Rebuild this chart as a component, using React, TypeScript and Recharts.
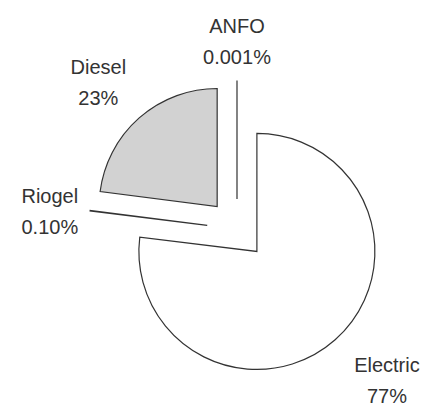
import { Pie, PieChart, Sector } from 'recharts';

// Energy source split, in percent
const sources = ['Electric', 'Riogel', 'Diesel', 'ANFO'];
const shares = ['77', '0.10', '23', '0.001'];
const values = shares.map(Number);

const data = sources.map((name, i) => ({ name, value: values[i], share: shares[i] }));

const FILLS = ['#ffffff', '#ffffff', '#d2d2d2', '#ffffff'];
// label distance from centre and small angular nudge, per slice
const LABEL_RADIUS = [213, 188, 202, 188];
const LABEL_NUDGE = [3.2, 1.7, 2, 0];
const EXPLODE = 30;
const RADIAN = Math.PI / 180;

function ExplodedSlice(props: any) {
  const { cx, cy, midAngle, outerRadius, startAngle, endAngle } = props;
  const entry = props.payload ?? props;
  const i = sources.indexOf(entry.name);

  const sx = cx + EXPLODE * Math.cos(-midAngle * RADIAN);
  const sy = cy + EXPLODE * Math.sin(-midAngle * RADIAN);

  const la = midAngle + LABEL_NUDGE[i];
  const lx = cx + LABEL_RADIUS[i] * Math.cos(-la * RADIAN);
  const ly = cy + LABEL_RADIUS[i] * Math.sin(-la * RADIAN);

  return (
    <g>
      <Sector
        cx={sx}
        cy={sy}
        innerRadius={0}
        outerRadius={outerRadius}
        startAngle={startAngle}
        endAngle={endAngle}
        fill={FILLS[i]}
        stroke="#333333"
        strokeWidth={1.2}
      />
      <text
        textAnchor="middle"
        fill="#333333"
        fontSize={20}
        fontFamily="'Liberation Sans', Arial, Helvetica, sans-serif"
      >
        <tspan x={lx} y={ly - 8}>
          {entry.name}
        </tspan>
        <tspan x={lx} y={ly + 23}>
          {entry.share}%
        </tspan>
      </text>
    </g>
  );
}

export default function App() {
  return (
    <div style={{ position: 'absolute', left: 0, top: 0, background: '#fff' }}>
      <PieChart width={423} height={407} margin={{ top: 0, right: 0, bottom: 0, left: 0 }}>
        <Pie
          data={data}
          dataKey="value"
          nameKey="name"
          cx={237}
          cy={229}
          innerRadius={0}
          outerRadius={118}
          startAngle={90}
          endAngle={-270}
          fill="none"
          stroke="none"
          label={ExplodedSlice}
          labelLine={false}
          isAnimationActive={false}
        />
      </PieChart>
    </div>
  );
}
